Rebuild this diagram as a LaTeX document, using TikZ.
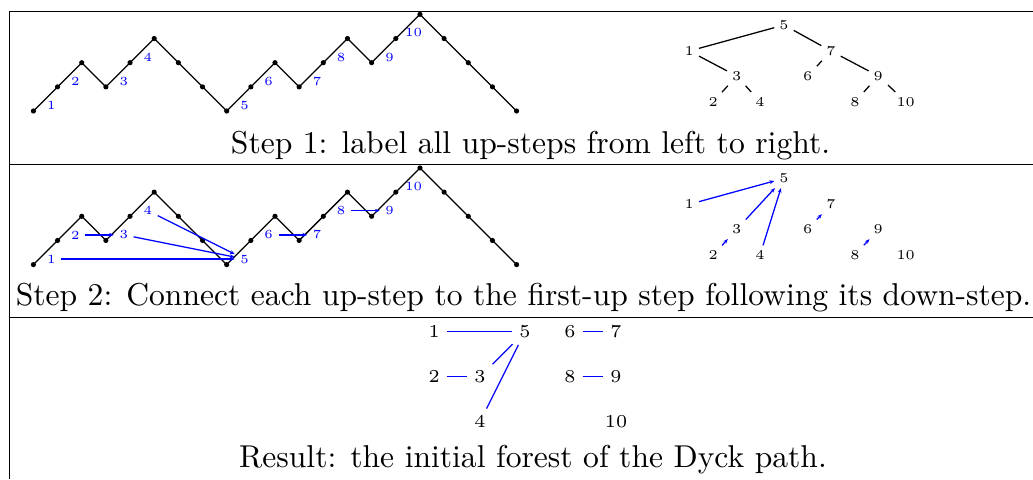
\documentclass[tikz,border=0pt]{standalone}
\usepackage{fontspec}
\usetikzlibrary{calc,arrows.meta}
\newcommand\DyckRow[2]{%
  \begin{scope}[shift={(0,#2)}]
    \foreach \h [count=\i from 0] in {0,1,2,1,2,3,2,1,0,1,2,1,2,3,2,3,4,3,2,1,0}
      \coordinate (#1p\i) at ({33.4+\i*24.16},{111-\h*24.16});
    \draw[dyckline] (#1p0) \foreach \i in {1,...,20}{ -- (#1p\i)};
    \foreach \i in {0,...,20} \fill (#1p\i) circle[radius=0.82pt];
    \foreach \s/\k [evaluate=\s as \t using int(\s+1)] in {0/1,1/2,3/3,4/4,8/5,9/6,11/7,12/8,14/9,15/10}
      \node[lbl] (#1l\k) at ($(#1p\s)!0.5!(#1p\t)+(5.8,6.5)$) {\k};
  \end{scope}}
\newcommand\TreeRow[2]{%
  \begin{scope}[shift={(0,#2)}]
    \node[tnode] (#1n5) at (784,25) {5};
    \node[tnode] (#1n1) at (689.3,51) {1};
    \node[tnode] (#1n7) at (831,51) {7};
    \node[tnode] (#1n3) at (736.7,76) {3};
    \node[tnode] (#1n6) at (807.7,76) {6};
    \node[tnode] (#1n9) at (878.3,76) {9};
    \node[tnode] (#1n2) at (713.3,101.7) {2};
    \node[tnode] (#1n4) at (760,101.7) {4};
    \node[tnode] (#1n8) at (855,101.7) {8};
    \node[tnode] (#1n10) at (905.7,101.7) {10};
  \end{scope}}
\begin{document}
\begin{tikzpicture}[x=0.3165pt,y=-0.3165pt,
  dyckline/.style={line width=0.4pt,line join=miter},
  lbl/.style={text=blue,font=\fontsize{3.93}{4.7}\selectfont,inner sep=1.58pt},
  tnode/.style={font=\fontsize{4.27}{5.1}\selectfont,inner sep=1.42pt},
  rnode/.style={font=\fontsize{5.76}{6.9}\selectfont,inner sep=2pt},
  captxt/.style={font=\fontsize{10}{12}\selectfont,inner sep=0pt,anchor=base},
  arr/.style={blue,line width=0.4pt,-{Stealth[length=1.5pt,width=1.2pt]}},
  bl/.style={blue,line width=0.4pt},
  tedge/.style={line width=0.4pt},
  rulel/.style={line width=0.4pt}]
\useasboundingbox (0,0) rectangle (1033,479);
% table rules
\coordinate (rA) at (9.5,11.7);
\coordinate (rAe) at (1033,11.7);
\coordinate (rB) at (9.5,164.4);
\coordinate (rBe) at (1033,164.4);
\coordinate (rC) at (9.5,317.2);
\coordinate (rCe) at (1033,317.2);
\coordinate (rD) at (9.5,479);
\draw[rulel] (rAe) -- (rA) -- (rD);
\draw[rulel] (rB) -- (rBe);
\draw[rulel] (rC) -- (rCe);
% row 1
\DyckRow{a}{0}
\TreeRow{a}{0}
\draw[tedge] (an5) -- (an1);
\draw[tedge] (an5) -- (an7);
\draw[tedge] (an1) -- (an3);
\draw[tedge] (an3) -- (an2);
\draw[tedge] (an3) -- (an4);
\draw[tedge] (an7) -- (an6);
\draw[tedge] (an7) -- (an9);
\draw[tedge] (an9) -- (an8);
\draw[tedge] (an9) -- (an10);
\node[captxt] (cap1) at (530.5,153.3) {Step 1: label all up-steps from left to right.};
% row 2
\DyckRow{b}{153.6}
\draw[arr] (bl1) -- (bl5);
\draw[arr] (bl2) -- (bl3);
\draw[arr] (bl3) -- (bl5);
\draw[arr] (bl4) -- (bl5);
\draw[arr] (bl6) -- (bl7);
\draw[arr] (bl8) -- (bl9);
\TreeRow{b}{153.3}
\draw[arr] (bn1) -- (bn5);
\draw[arr] (bn2) -- (bn3);
\draw[arr] (bn3) -- (bn5);
\draw[arr] (bn4) -- (bn5);
\draw[arr] (bn6) -- (bn7);
\draw[arr] (bn8) -- (bn9);
\node[captxt] (cap2) at (523.5,305.6) {Step 2: Connect each up-step to the first-up step following its down-step.};
% row 3
\node[rnode] (r1) at (434.3,331.7) {1};
\node[rnode] (r5) at (525,331.7) {5};
\node[rnode] (r6) at (570,331.7) {6};
\node[rnode] (r7) at (616,331.7) {7};
\node[rnode] (r2) at (434.3,376.7) {2};
\node[rnode] (r3) at (480,376.7) {3};
\node[rnode] (r8) at (570,376.7) {8};
\node[rnode] (r9) at (616,376.7) {9};
\node[rnode] (r4) at (480,421.7) {4};
\node[rnode] (r10) at (616,421.7) {10};
\draw[bl] (r1) -- (r5);
\draw[bl] (r2) -- (r3);
\draw[bl] (r3) -- (r5);
\draw[bl] (r4) -- (r5);
\draw[bl] (r6) -- (r7);
\draw[bl] (r8) -- (r9);
\node[captxt] (cap3) at (533,467) {Result: the initial forest of the Dyck path.};
\end{tikzpicture}
\end{document}
